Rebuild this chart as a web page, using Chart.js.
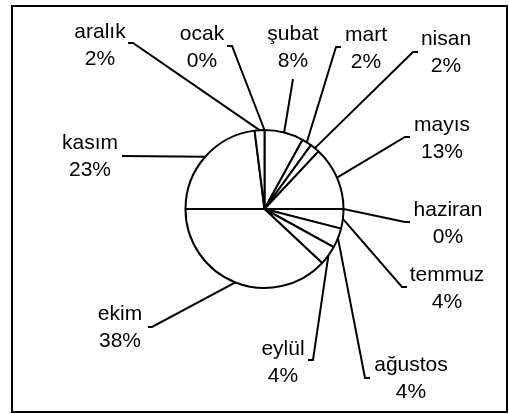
<!DOCTYPE html>
<html>
<head>
<meta charset="utf-8">
<title>aylara göre dağılım</title>
<script src="https://cdn.jsdelivr.net/npm/chart.js@4.4.0/dist/chart.umd.min.js"></script>
<style>
    body {
        margin: 0;
        background-color: white;
    }
</style>
</head>
<body>
<canvas id="pieChart" width="509" height="414"></canvas>
<script>
// months clockwise from 12 o'clock, share in percent
const months = ['ocak', 'şubat', 'mart', 'nisan', 'mayıs', 'haziran', 'temmuz', 'ağustos', 'eylül', 'ekim', 'kasım', 'aralık'];
const shares = [0, 8, 2, 2, 13, 0, 4, 4, 4, 38, 23, 2];

// where each label sits: text centre x, first baseline, leader end, short tick end
const labelLayout = [
    { tx: 202, base: 40, lx: 232, ly: 46, tick: 227 },
    { tx: 293, base: 40, lx: 293, ly: 79, tick: null },
    { tx: 366, base: 41, lx: 336, ly: 47, tick: 341 },
    { tx: 446, base: 45, lx: 413, ly: 52, tick: 418 },
    { tx: 442, base: 131, lx: 405, ly: 137, tick: 410 },
    { tx: 448, base: 216, lx: 405, ly: 222, tick: 410 },
    { tx: 447, base: 281, lx: 402, ly: 287, tick: 407 },
    { tx: 411, base: 371, lx: 365, ly: 378, tick: 370 },
    { tx: 283, base: 355, lx: 313, ly: 360, tick: 308 },
    { tx: 120, base: 320, lx: 152, ly: 327, tick: 148 },
    { tx: 90, base: 149, lx: 122, ly: 156, tick: null },
    { tx: 100, base: 38, lx: 133, ly: 43, tick: 128 },
];

const leaderLabels = {
    id: 'leaderLabels',
    afterDatasetsDraw(chart) {
        const ctx = chart.ctx;
        const meta = chart.getDatasetMeta(0);
        ctx.save();
        ctx.strokeStyle = '#000';
        ctx.fillStyle = '#000';
        ctx.lineWidth = 2;
        ctx.font = '21px "Liberation Sans", Arial, sans-serif';
        ctx.textAlign = 'center';
        ctx.textBaseline = 'alphabetic';
        meta.data.forEach((arc, i) => {
            const p = arc.getProps(['x', 'y', 'startAngle', 'endAngle', 'outerRadius'], true);
            const mid = (p.startAngle + p.endAngle) / 2;
            const L = labelLayout[i];
            ctx.beginPath();
            ctx.moveTo(p.x + Math.cos(mid) * p.outerRadius, p.y + Math.sin(mid) * p.outerRadius);
            ctx.lineTo(L.lx, L.ly);
            if (L.tick !== null) ctx.lineTo(L.tick, L.ly);
            ctx.stroke();
            ctx.fillText(months[i], L.tx, L.base);
            ctx.fillText(shares[i] + '%', L.tx, L.base + 27);
        });
        // outer frame
        ctx.strokeRect(12, 6, 495, 406);
        ctx.restore();
    }
};

new Chart(document.getElementById('pieChart'), {
    type: 'pie',
    data: {
        labels: months,
        datasets: [{
            data: shares,
            backgroundColor: '#ffffff',
            borderColor: '#000000',
            borderWidth: 2,
        }]
    },
    options: {
        responsive: false,
        animation: false,
        layout: { padding: { left: 184.5, right: 164.5, top: 129, bottom: 125 } },
        plugins: {
            legend: { display: false },
            tooltip: { enabled: false },
        },
    },
    plugins: [leaderLabels],
});
</script>
</body>
</html>
